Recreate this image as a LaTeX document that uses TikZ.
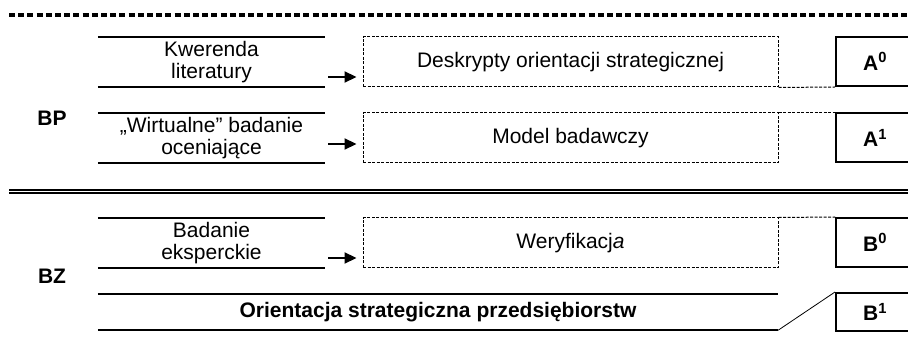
\documentclass[tikz,border=0pt]{standalone}
\usepackage{fontspec}
\setmainfont{Liberation Sans}
\usetikzlibrary{arrows.meta}
\begin{document}
\begin{tikzpicture}[x=1pt,y=-1pt,
    every node/.style={font=\fontsize{21}{22}\selectfont},
    textbar/.style={minimum width=227pt,minimum height=50pt,inner sep=0pt,align=center},
    bar/.style={line width=2pt},
    dbox/.style={draw,line width=1pt,dash pattern=on 3pt off 1.5pt,minimum width=415pt,minimum height=50pt,inner sep=0pt},
    dline/.style={line width=1pt,dash pattern=on 3pt off 1.5pt},
    lbox/.style={draw,line width=2pt,minimum width=78pt,minimum height=49pt,inner sep=0pt,font=\fontsize{21}{22}\selectfont\bfseries},
    arr/.style={-{Triangle[length=12pt,width=11pt]},line width=2.2pt,shorten >=6pt}]
  \useasboundingbox (0,0) rectangle (908,355);
  % separators
  \draw[line width=3.5pt,dash pattern=on 6pt off 3.2pt] (9,15) -- (908,15);
  \draw[line width=2.5pt] (9,190) -- (908,190);
  \draw[line width=1.2pt] (9,193) -- (908,193);
  % group labels
  \node[font=\fontsize{21}{22}\selectfont\bfseries] (bp) at (52,118) {BP};
  \node[font=\fontsize{21}{22}\selectfont\bfseries] (bz) at (52,276) {BZ};
  % sources
  \node[textbar] (kw) at (211.5,62) {Kwerenda\\literatury};
  \node[textbar] (wirt) at (211.5,138) {„Wirtualne” badanie\\oceniające};
  \node[textbar] (bad) at (211.5,243) {Badanie\\eksperckie};
  \foreach \n in {kw,wirt,bad}
    \draw[bar] (\n.north west) -- (\n.north east) (\n.south west) -- (\n.south east);
  % results
  \node[dbox] (desk) at (570.5,62) {Deskrypty orientacji strategicznej};
  \node[dbox] (model) at (570.5,138) {Model badawczy};
  \node[dbox] (wer) at (570.5,243) {Weryfikacj\textit{a}};
  \node[minimum width=680pt,minimum height=36pt,inner sep=0pt,font=\fontsize{21}{22}\selectfont\bfseries] (orient) at (438,312) {Orientacja strategiczna przedsiębiorstw};
  \draw[bar] (orient.north west) -- (orient.north east) (orient.south west) -- (orient.south east);
  % stages
  \node[lbox] (a0) at (875,61.5) {A\textsuperscript{0}};
  \node[lbox] (a1) at (875,138) {A\textsuperscript{1}};
  \node[lbox] (b0) at (875,242.5) {B\textsuperscript{0}};
  \node[lbox,minimum height=38pt] (b1) at (875,312) {B\textsuperscript{1}};
  % arrows
  \coordinate (kwarr) at (328,77);
  \coordinate (wirtarr) at (328,144);
  \coordinate (badarr) at (328,258);
  \draw[arr] (kwarr) -- (kwarr -| desk.west);
  \draw[arr] (wirtarr) -- (wirtarr -| model.west);
  \draw[arr] (badarr) -- (badarr -| wer.west);
  % links
  \draw[dline] (desk.south east) -- (a0.south west);
  \draw[dline] (model.north east) -- (a1.north west);
  \draw[dline] (wer.north east) -- (b0.north west);
  \draw[line width=0.8pt] (orient.south east) -- (b1.north west);
\end{tikzpicture}
\end{document}
